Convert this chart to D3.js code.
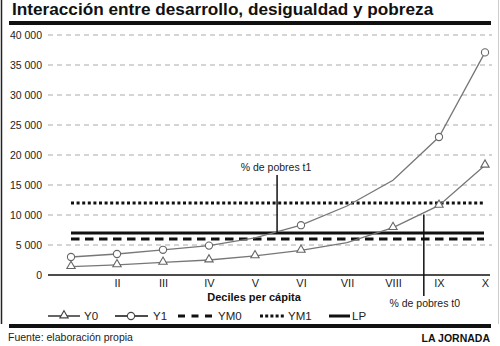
<!DOCTYPE html>
<html><head><meta charset="utf-8">
<script src="https://cdn.jsdelivr.net/npm/d3@7"></script>
<style>
html,body{margin:0;padding:0;background:#fff;}
svg{display:block;}
text{font-family:"Liberation Sans",Arial,Helvetica,sans-serif;}
</style></head>
<body>
<script>
const deciles = ["I","II","III","IV","V","VI","VII","VIII","IX","X"];
const tickLabels = ["","II","III","IV","V","VI","VII","VIII","IX","X"];
const y0Values = [1400,1700,2100,2500,3200,4100,5400,7900,11600,18300];
const y1Values = [3000,3500,4200,4900,6200,8300,11500,15800,23000,37100];
const y0Markers = [1,1,1,1,1,1,0,1,1,1];
const y1Markers = [1,1,1,1,0,1,0,0,1,1];
const ym0Value = 6000;
const ym1Value = 12000;
const lpValue = 7000;
const yTicks = [0,5000,10000,15000,20000,25000,30000,35000,40000];
const t1Decile = 4.48;  // fractional decile index (0 = I) of the t1 poverty cut
const t0Decile = 7.67;  // fractional decile index of the t0 poverty cut
const t0Level = 10100;
const title = "Interacción entre desarrollo, desigualdad y pobreza";
const xTitle = "Deciles per cápita";
const source = "Fuente: elaboración propia";
const brand = "LA JORNADA";

const W=500,H=346;
const svg=d3.select("body").append("svg").attr("width",W).attr("height",H);

const x=d3.scalePoint().domain(deciles).range([71,485]);
const y=d3.scaleLinear().domain([0,40000]).range([275,35]);
const xi=i=>x(deciles[0])+i*x.step();

// frame
svg.append("line").attr("x1",1.5).attr("x2",1.5).attr("y1",0).attr("y2",324).attr("stroke","#222").attr("stroke-width",1.5);
svg.append("line").attr("x1",498.5).attr("x2",498.5).attr("y1",0).attr("y2",324).attr("stroke","#ccc").attr("stroke-width",1);

// title
svg.append("text").attr("x",12).attr("y",15).attr("font-size",17.2).attr("font-weight","bold").attr("fill","#111").text(title);
svg.append("rect").attr("x",9).attr("y",21).attr("width",482).attr("height",4).attr("fill","#111");

// grid + y axis
const yAxis=d3.axisLeft(y).tickValues(yTicks).tickSize(0).tickPadding(6)
  .tickFormat(d=>d3.format(",")(d).replace(/,/g," "));
const gy=svg.append("g").attr("transform","translate(48,0)").call(yAxis);
gy.select(".domain").remove();
gy.selectAll("text").attr("font-size",10.5).attr("fill","#222").attr("x",-6);
svg.append("g").selectAll("line").data(yTicks.filter(d=>d>0)).join("line")
  .attr("x1",48).attr("x2",492).attr("y1",d=>y(d)).attr("y2",d=>y(d))
  .attr("stroke","#aaa").attr("stroke-width",1).attr("stroke-dasharray","5,4");

// x axis
const xAxis=d3.axisBottom(x).tickSize(0).tickPadding(4).tickFormat((d,i)=>tickLabels[i]);
const gx=svg.append("g").attr("transform",`translate(0,${y(0)})`).call(xAxis);
gx.select(".domain").remove();
svg.append("line").attr("x1",48).attr("x2",490).attr("y1",y(0)).attr("y2",y(0)).attr("stroke","#111").attr("stroke-width",1.5);
gx.selectAll("text").attr("font-size",11).attr("fill","#222");
svg.append("text").attr("x",254).attr("y",301).attr("text-anchor","middle").attr("font-size",11).attr("font-weight","bold").attr("fill","#111").text(xTitle);

// reference lines
const x0=x(deciles[0]), x1=x(deciles[9])-1;
svg.append("line").attr("x1",x0).attr("x2",x1).attr("y1",y(ym1Value)).attr("y2",y(ym1Value))
  .attr("stroke","#111").attr("stroke-width",3).attr("stroke-dasharray","3,2.6");
svg.append("line").attr("x1",x0).attr("x2",x1).attr("y1",y(lpValue)).attr("y2",y(lpValue))
  .attr("stroke","#111").attr("stroke-width",3);
svg.append("line").attr("x1",x0).attr("x2",x1).attr("y1",y(ym0Value)).attr("y2",y(ym0Value))
  .attr("stroke","#111").attr("stroke-width",3).attr("stroke-dasharray","8.5,5.5");

// series lines
const line=d3.line().x((d,i)=>x(deciles[i])).y(d=>y(d));
svg.append("path").datum(y0Values).attr("d",line).attr("fill","none").attr("stroke","#777").attr("stroke-width",1.3);
svg.append("path").datum(y1Values).attr("d",line).attr("fill","none").attr("stroke","#777").attr("stroke-width",1.3);

const tri=d3.symbol().type(d3.symbolTriangle).size(30);
svg.append("g").selectAll("path").data(y0Values.map((v,i)=>({v,i})).filter(d=>y0Markers[d.i])).join("path")
  .attr("d",tri).attr("transform",d=>`translate(${x(deciles[d.i])},${y(d.v)-0.5})`)
  .attr("fill","#fff").attr("stroke","#666").attr("stroke-width",1.1);
svg.append("g").selectAll("circle").data(y1Values.map((v,i)=>({v,i})).filter(d=>y1Markers[d.i])).join("circle")
  .attr("cx",d=>x(deciles[d.i])).attr("cy",d=>y(d.v)).attr("r",3.6)
  .attr("fill","#fff").attr("stroke","#666").attr("stroke-width",1.1);

// poverty markers
const t1x=xi(t1Decile), t0x=xi(t0Decile);
svg.append("line").attr("x1",t1x).attr("x2",t1x).attr("y1",175).attr("y2",y(lpValue)).attr("stroke","#111").attr("stroke-width",1.5);
svg.append("text").attr("x",t1x-1).attr("y",171).attr("text-anchor","middle").attr("font-size",10.5).attr("fill","#222").text("% de pobres t1");
svg.append("line").attr("x1",t0x).attr("x2",t0x).attr("y1",y(t0Level)).attr("y2",296).attr("stroke","#111").attr("stroke-width",1.5);
svg.append("text").attr("x",t0x+1).attr("y",307).attr("text-anchor","middle").attr("font-size",10.5).attr("fill","#222").text("% de pobres t0");

// legend
const ly=316, lf=11.5;
const lg=svg.append("g");
lg.append("line").attr("x1",48).attr("x2",80).attr("y1",ly).attr("y2",ly).attr("stroke","#111").attr("stroke-width",1.3);
lg.append("path").attr("d",tri).attr("transform",`translate(64,${ly-0.5})`).attr("fill","#fff").attr("stroke","#444").attr("stroke-width",1.1);
lg.append("text").attr("x",84).attr("y",ly+4).attr("font-size",lf).attr("fill","#222").text("Y0");
lg.append("line").attr("x1",115).attr("x2",148).attr("y1",ly).attr("y2",ly).attr("stroke","#111").attr("stroke-width",1.3);
lg.append("circle").attr("cx",131).attr("cy",ly).attr("r",3.6).attr("fill","#fff").attr("stroke","#444").attr("stroke-width",1.1);
lg.append("text").attr("x",153).attr("y",ly+4).attr("font-size",lf).attr("fill","#222").text("Y1");
lg.append("line").attr("x1",178).attr("x2",214).attr("y1",ly).attr("y2",ly).attr("stroke","#111").attr("stroke-width",3).attr("stroke-dasharray","7,6.5");
lg.append("text").attr("x",218).attr("y",ly+4).attr("font-size",lf).attr("fill","#222").text("YM0");
lg.append("line").attr("x1",260).attr("x2",284).attr("y1",ly).attr("y2",ly).attr("stroke","#111").attr("stroke-width",3).attr("stroke-dasharray","3,2.2");
lg.append("text").attr("x",288).attr("y",ly+4).attr("font-size",lf).attr("fill","#222").text("YM1");
lg.append("line").attr("x1",329).attr("x2",350).attr("y1",ly).attr("y2",ly).attr("stroke","#111").attr("stroke-width",3);
lg.append("text").attr("x",352).attr("y",ly+4).attr("font-size",lf).attr("fill","#222").text("LP");

// footer
svg.append("rect").attr("x",9).attr("y",324).attr("width",482).attr("height",4).attr("fill","#111");
svg.append("text").attr("x",8).attr("y",341).attr("font-size",10.5).attr("fill","#222").text(source);
svg.append("text").attr("x",490).attr("y",342).attr("text-anchor","end").attr("font-size",10.5).attr("font-weight","bold").attr("fill","#111").text(brand);
</script>
</body></html>
